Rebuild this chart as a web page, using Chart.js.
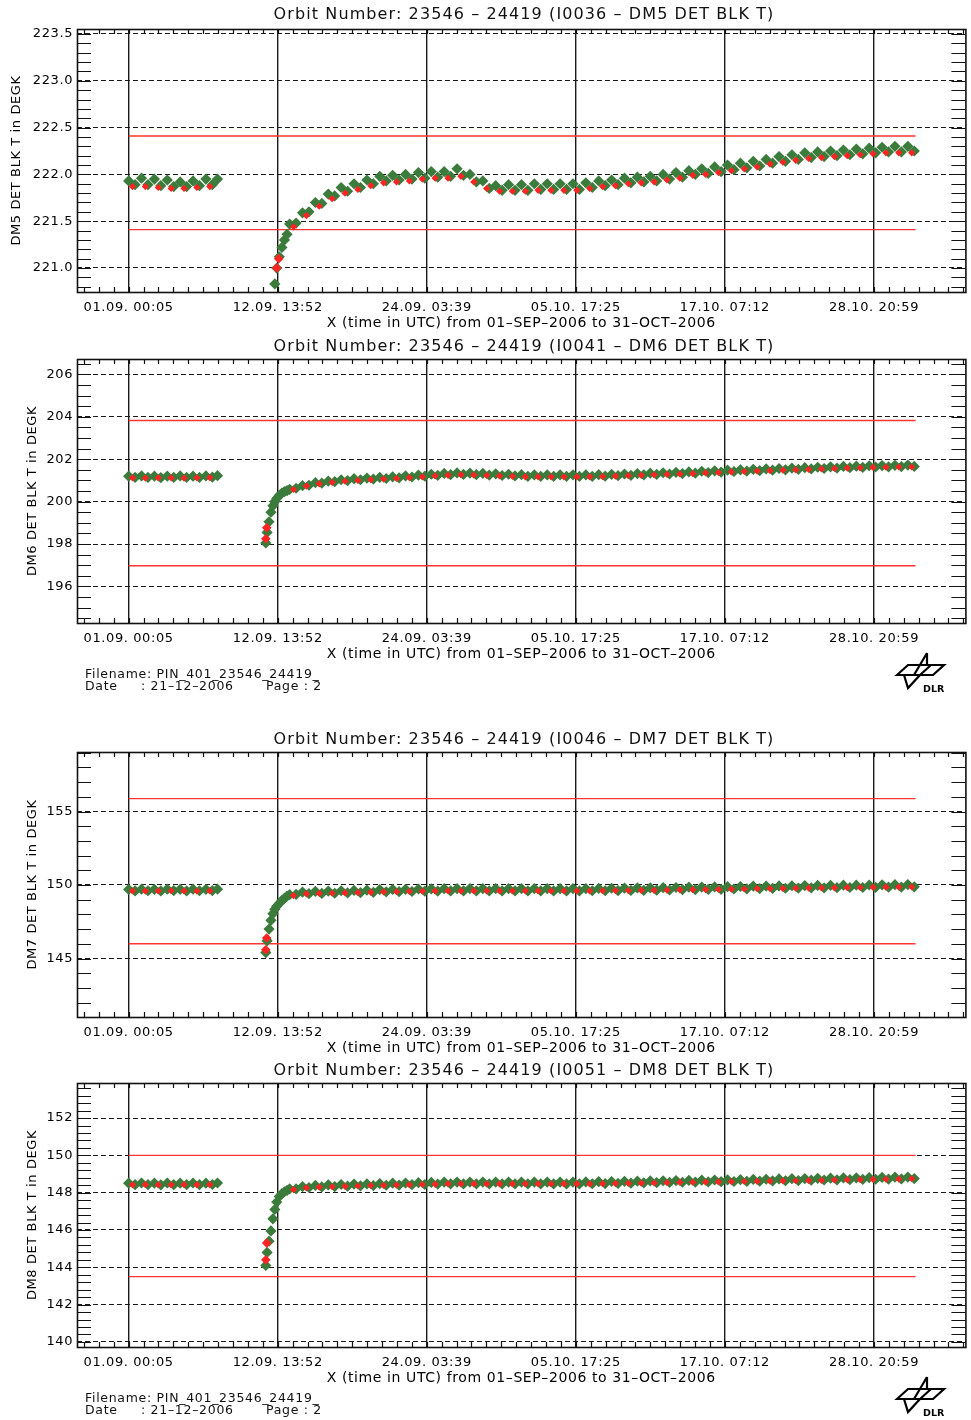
<!DOCTYPE html>
<html><head><meta charset="utf-8">
<script src="https://cdn.jsdelivr.net/npm/chart.js@4.4.1/dist/chart.umd.min.js"></script>
<style>
html,body{margin:0;padding:0;background:#fff;}
body{position:relative;width:971px;height:1420px;overflow:hidden;font-family:"DejaVu Sans",sans-serif;color:#000;}
canvas{position:absolute;left:0;}
.title{position:absolute;left:77px;width:894px;text-align:center;font-size:16px;letter-spacing:1.1px;line-height:18px;white-space:nowrap;color:#111;}
.foot{position:absolute;font-size:12.5px;letter-spacing:0.7px;line-height:13px;white-space:pre;color:#111;}
.logo{position:absolute;left:892px;width:56px;height:44px;}
</style></head><body>
<script>
// ---------------- DATA ----------------
// time axis: days after 01.09.2006 00:05 UTC
const tickDays   = [0, 11.574, 23.148, 34.722, 46.296, 57.870];
const tickLabels = ['01.09. 00:05','12.09. 13:52','24.09. 03:39','05.10. 17:25','17.10. 07:12','28.10. 20:59'];
const limitSpan  = [0, 61.1];

const times = [0.0,0.5,1.0,1.5,2.0,2.5,3.0,3.5,4.0,4.5,5.0,5.5,6.0,6.5,6.9,
 10.65,10.75,10.9,11.05,11.2,11.35,11.5,11.7,11.9,12.1,12.3,
 12.5,13,13.5,14,14.5,15,15.5,16,16.5,17,17.5,18,18.5,19,19.5,20,20.5,21,21.5,22,22.5,23,23.5,24,24.5,25,
 25.5,26,26.5,27,27.5,28,28.5,29,29.5,30,30.5,31,31.5,32,32.5,33,33.5,34,34.5,35,35.5,36,36.5,37,37.5,38,
 38.5,39,39.5,40,40.5,41,41.5,42,42.5,43,43.5,44,44.5,45,45.5,46,46.5,47,47.5,48,48.5,49,49.5,50,50.5,51,
 51.5,52,52.5,53,53.5,54,54.5,55,55.5,56,56.5,57,57.5,58,58.5,59,59.5,60,60.5,61];

const redTimes = [0.3,1.3,2.3,3.3,4.3,5.3,6.3, 10.65,10.72,11.5,11.65,
 12.8,13.8,14.8,15.8,16.8,17.8,18.8,19.8,20.8,21.8,22.8,23.8,24.8,25.8,26.8,27.8,28.8,29.8,30.8,31.8,32.8,
 33.8,34.8,35.8,36.8,37.8,38.8,39.8,40.8,41.8,42.8,43.8,44.8,45.8,46.8,47.8,48.8,49.8,50.8,51.8,52.8,53.8,
 54.8,55.8,56.8,57.8,58.8,59.8,60.8];

// DM5
const dm5Values = [221.93,221.89,221.96,221.89,221.95,221.88,221.94,221.87,221.92,221.87,221.93,221.88,221.95,221.89,221.95,
 219.8,220.0,220.3,220.5,220.68,220.83,221.0,221.12,221.22,221.3,221.36,
 221.47,221.48,221.59,221.60,221.70,221.69,221.79,221.77,221.86,221.82,221.90,221.86,221.94,221.90,221.98,221.93,
 221.99,221.94,222.00,221.95,222.02,221.96,222.03,221.97,222.03,221.98,222.06,221.99,222.00,221.92,221.93,221.85,
 221.88,221.83,221.89,221.83,221.89,221.83,221.90,221.84,221.90,221.84,221.90,221.84,221.90,221.84,221.91,221.86,
 221.93,221.88,221.94,221.89,221.96,221.91,221.97,221.92,221.98,221.93,222.00,221.95,222.02,221.97,222.04,222.00,
 222.06,222.01,222.08,222.03,222.10,222.05,222.12,222.07,222.14,222.09,222.16,222.12,222.19,222.14,222.21,222.16,
 222.23,222.18,222.24,222.19,222.25,222.20,222.26,222.21,222.27,222.22,222.28,222.23,222.29,222.24,222.30,222.24,
 222.30,222.25];
const dm5Red = [221.87,221.87,221.86,221.85,221.85,221.86,221.87, null,null,221.0,221.1,
 221.44,221.56,221.66,221.74,221.80,221.84,221.88,221.91,221.92,221.93,221.95,221.96,221.96,221.98,221.92,221.85,
 221.82,221.82,221.82,221.83,221.83,221.83,221.83,221.85,221.87,221.88,221.90,221.91,221.92,221.94,221.96,221.99,
 222.00,222.02,222.04,222.06,222.08,222.11,222.13,222.15,222.17,222.18,222.19,222.20,222.21,222.22,222.23,222.23,222.23];
const dm5Limits = [222.41, 221.41];
const dm5Ticks = [221.0,221.5,222.0,222.5,223.0,223.5];
const dm5TickLabels = ['221.0','221.5','222.0','222.5','223.0','223.5'];

// DM6
const dm6Values = [201.20,201.14,201.21,201.14,201.20,201.13,201.20,201.14,201.21,201.14,201.20,201.14,201.21,201.15,201.22,
 198.05,198.55,199.05,199.5,199.8,200.0,200.15,200.3,200.4,200.47,200.52,
 200.58,200.63,200.75,200.77,200.89,200.87,200.97,200.94,201.03,200.99,201.08,201.03,201.11,201.06,201.14,201.09,
 201.17,201.12,201.21,201.16,201.25,201.20,201.29,201.24,201.33,201.27,201.35,201.28,201.34,201.27,201.33,201.25,
 201.31,201.23,201.29,201.21,201.27,201.19,201.26,201.19,201.26,201.19,201.26,201.19,201.26,201.19,201.26,201.19,
 201.27,201.20,201.28,201.22,201.30,201.24,201.32,201.26,201.34,201.28,201.36,201.30,201.38,201.32,201.40,201.34,
 201.43,201.37,201.45,201.39,201.48,201.42,201.50,201.44,201.52,201.46,201.54,201.48,201.56,201.50,201.58,201.52,
 201.60,201.54,201.62,201.56,201.64,201.58,201.66,201.60,201.67,201.61,201.69,201.63,201.70,201.64,201.71,201.65,
 201.72,201.66];
const dm6Red = [201.12,201.11,201.12,201.12,201.11,201.12,201.13, 198.25,198.77,null,null,
 200.57,200.73,200.84,200.91,200.96,201.00,201.03,201.06,201.09,201.13,201.17,201.21,201.24,201.26,201.25,201.23,
 201.21,201.19,201.17,201.17,201.17,201.17,201.17,201.17,201.18,201.20,201.22,201.24,201.26,201.28,201.30,201.32,
 201.35,201.37,201.40,201.42,201.44,201.46,201.48,201.50,201.52,201.54,201.56,201.58,201.59,201.61,201.62,201.63,201.63];
const dm6Limits = [203.82, 196.98];
const dm6Ticks = [196,198,200,202,204,206];
const dm6TickLabels = ['196','198','200','202','204','206'];

// DM7
const dm7Values = [149.70,149.60,149.72,149.61,149.71,149.60,149.72,149.62,149.71,149.60,149.72,149.61,149.71,149.62,149.72,
 145.4,146.2,147.0,147.6,148.05,148.35,148.55,148.75,148.95,149.1,149.25,
 149.34,149.36,149.52,149.41,149.57,149.43,149.59,149.44,149.61,149.46,149.63,149.48,149.65,149.50,149.69,149.54,
 149.70,149.55,149.71,149.56,149.73,149.58,149.74,149.59,149.75,149.60,149.76,149.60,149.76,149.60,149.76,149.60,
 149.76,149.60,149.76,149.60,149.76,149.60,149.76,149.60,149.76,149.60,149.76,149.60,149.76,149.60,149.76,149.61,
 149.77,149.61,149.78,149.62,149.79,149.63,149.80,149.64,149.81,149.65,149.82,149.66,149.83,149.68,149.85,149.69,
 149.86,149.70,149.87,149.71,149.89,149.73,149.90,149.74,149.92,149.76,149.93,149.77,149.94,149.78,149.95,149.79,
 149.96,149.80,149.97,149.81,149.98,149.82,149.99,149.83,149.99,149.83,150.00,149.84,150.01,149.85,150.02,149.86,
 150.03,149.88];
const dm7Red = [149.60,149.59,149.60,149.61,149.60,149.59,149.60, 145.6,146.4,null,null,
 149.28,149.40,149.43,149.44,149.46,149.48,149.50,149.53,149.55,149.56,149.58,149.59,149.60,149.60,149.60,149.60,
 149.60,149.60,149.60,149.60,149.60,149.60,149.60,149.60,149.61,149.62,149.62,149.63,149.64,149.65,149.67,149.68,
 149.69,149.70,149.72,149.73,149.75,149.76,149.77,149.78,149.79,149.80,149.81,149.82,149.83,149.84,149.85,149.86,149.87];
const dm7Limits = [155.88, 146.0];
const dm7Ticks = [145,150,155];
const dm7TickLabels = ['145','150','155'];

// DM8
const dm8Values = [148.51,148.43,148.52,148.43,148.51,148.42,148.52,148.43,148.51,148.43,148.52,148.43,148.51,148.44,148.52,
 144.1,144.8,145.4,145.95,146.6,147.1,147.5,147.8,147.95,148.05,148.12,
 148.21,148.21,148.33,148.28,148.39,148.31,148.42,148.33,148.44,148.35,148.46,148.37,148.47,148.38,148.49,148.40,
 148.51,148.41,148.52,148.43,148.54,148.44,148.55,148.46,148.57,148.47,148.57,148.47,148.57,148.47,148.57,148.47,
 148.57,148.47,148.57,148.47,148.57,148.47,148.57,148.47,148.57,148.47,148.57,148.47,148.57,148.47,148.58,148.48,
 148.59,148.49,148.60,148.50,148.61,148.51,148.62,148.53,148.63,148.54,148.64,148.55,148.65,148.56,148.66,148.57,
 148.67,148.58,148.68,148.59,148.69,148.60,148.70,148.61,148.71,148.62,148.72,148.63,148.74,148.64,148.75,148.65,
 148.76,148.67,148.77,148.68,148.78,148.69,148.79,148.70,148.80,148.71,148.81,148.72,148.82,148.73,148.83,148.74,
 148.84,148.76];
const dm8Red = [148.42,148.43,148.42,148.42,148.43,148.42,148.43, 144.4,145.3,null,null,
 148.17,148.26,148.30,148.32,148.34,148.36,148.38,148.39,148.41,148.42,148.44,148.45,148.47,148.47,148.47,148.47,
 148.47,148.47,148.47,148.47,148.47,148.47,148.47,148.47,148.48,148.49,148.50,148.51,148.52,148.54,148.55,148.56,
 148.57,148.58,148.59,148.60,148.61,148.62,148.63,148.64,148.65,148.66,148.68,148.69,148.70,148.71,148.72,148.73,148.75];
const dm8Limits = [150.0, 143.5];
const dm8Ticks = [140,142,144,146,148,150,152];
const dm8TickLabels = ['140','142','144','146','148','150','152'];

// ---------------- LAYOUT ----------------
const FONT = '"DejaVu Sans", sans-serif';
const X_MIN = -4.01, X_MAX = 64.97, X_MINOR = 1.1574;
const GREEN = '#3b7b3b', RED = '#ff2424', LIMIT = '#ff3535';

const panels = [
 {id:'I0036', dm:'DM5', values:dm5Values, red:dm5Red, limits:dm5Limits, yTicks:dm5Ticks, yLabels:dm5TickLabels,
  yMin:220.744, yMax:223.553, yMinor:0.1, top:29, bottom:292, yTitlePad:9, titleY:14},
 {id:'I0041', dm:'DM6', values:dm6Values, red:dm6Red, limits:dm6Limits, yTicks:dm6Ticks, yLabels:dm6TickLabels,
  yMin:194.28, yMax:206.72, yMinor:0.5, top:359, bottom:623, yTitlePad:25, titleY:346},
 {id:'I0046', dm:'DM7', values:dm7Values, red:dm7Red, limits:dm7Limits, yTicks:dm7Ticks, yLabels:dm7TickLabels,
  yMin:141.02, yMax:159.05, yMinor:1, top:752, bottom:1017, yTitlePad:25, titleY:739},
 {id:'I0051', dm:'DM8', values:dm8Values, red:dm8Red, limits:dm8Limits, yTicks:dm8Ticks, yLabels:dm8TickLabels,
  yMin:139.73, yMax:153.88, yMinor:0.4, top:1083, bottom:1347, yTitlePad:25, titleY:1070}
];

const spacingPlugin = {
  id:'spacing',
  beforeInit(chart){ try { chart.ctx.letterSpacing = '0.6px'; } catch(e){} },
  beforeLayout(chart){ try { chart.ctx.letterSpacing = '0.6px'; } catch(e){} },
  beforeDraw(chart){ try { chart.ctx.letterSpacing = '0.6px'; } catch(e){} }
};

const framePlugin = {
  id:'frame',
  afterDatasetsDraw(chart, args, opts){
    const {ctx, chartArea:a, scales:{x, y}} = chart;
    ctx.save();
    ctx.strokeStyle = '#111';
    ctx.lineWidth = 1.2;
    ctx.beginPath();
    const k0 = Math.ceil(x.min / X_MINOR), k1 = Math.floor(x.max / X_MINOR);
    for (let k = k0; k <= k1; k++){
      const px = Math.round(x.getPixelForValue(k * X_MINOR)) + 0.5;
      ctx.moveTo(px, a.top); ctx.lineTo(px, a.top + 5);
      ctx.moveTo(px, a.bottom); ctx.lineTo(px, a.bottom - 5);
    }
    const s = opts.yMinor;
    const j0 = Math.ceil(y.min / s - 1e-6), j1 = Math.floor(y.max / s + 1e-6);
    for (let j = j0; j <= j1; j++){
      const py = Math.round(y.getPixelForValue(j * s)) + 0.5;
      ctx.moveTo(a.left, py); ctx.lineTo(a.left + 14, py);
      ctx.moveTo(a.right, py); ctx.lineTo(a.right - 14, py);
    }
    ctx.stroke();
    ctx.lineWidth = 1.6;
    ctx.strokeRect(a.left + 0.5, a.top + 0.5, a.right - a.left, a.bottom - a.top);
    ctx.restore();
  }
};

Chart.defaults.font.family = FONT;
Chart.defaults.color = '#000';

panels.forEach(p => {
  const canvasTop = p.top - 29;
  const h = p.bottom - canvasTop + 48;
  const cv = document.createElement('canvas');
  cv.width = 971; cv.height = h;
  cv.style.top = canvasTop + 'px';
  cv.style.width = '971px'; cv.style.height = h + 'px';
  document.body.appendChild(cv);

  const t = document.createElement('div');
  t.className = 'title';
  t.style.top = (p.titleY - 9) + 'px';
  t.textContent = 'Orbit Number: 23546 \u2013 24419 (' + p.id + ' \u2013 ' + p.dm + ' DET BLK T)';
  document.body.appendChild(t);

  const greenPts = times.map((tt, i) => ({x: tt, y: p.values[i]}));
  const redPts = redTimes.map((tt, i) => ({x: tt, y: p.red[i], idx: i})).filter(q => q.y !== null);
  const lim = (v) => limitSpan.map(d => ({x: d, y: v}));

  new Chart(cv.getContext('2d'), {
    type: 'scatter',
    data: { datasets: [
      {label:'red', data: redPts, pointStyle:'rectRot', backgroundColor: RED, borderWidth:0,
       pointRadius: c => (c.raw && c.raw.idx >= 7 && c.raw.idx <= 10) ? 4.8 : 3.6, clip: 0},
      {label:'green', data: greenPts, pointStyle:'rectRot', backgroundColor: GREEN, borderWidth:0, pointRadius:5.6, clip: 0},
      {label:'upper', data: lim(p.limits[0]), showLine:true, borderColor: LIMIT, borderWidth:1.4, pointRadius:0, clip: 0},
      {label:'lower', data: lim(p.limits[1]), showLine:true, borderColor: LIMIT, borderWidth:1.4, pointRadius:0, clip: 0}
    ]},
    options: {
      responsive:false, animation:false, devicePixelRatio:1, events:[],
      layout:{ padding:{ top:29, left:0, right:0, bottom:0 } },
      plugins:{ legend:{display:false}, tooltip:{enabled:false}, frame:{ yMinor: p.yMinor } },
      scales:{
        x:{ type:'linear', min:X_MIN, max:X_MAX,
            afterBuildTicks: s => { s.ticks = tickDays.map(v => ({value:v})); },
            afterFit: s => { s.height = 48; },
            ticks:{ autoSkip:false, maxRotation:0, padding:8, font:{size:13, family:FONT}, color:'#000',
                    callback: (v) => { const i = tickDays.indexOf(v); return i >= 0 ? tickLabels[i] : ''; } },
            grid:{ color:'#1a1a1a', lineWidth:1.4, drawTicks:false },
            border:{ display:false },
            title:{ display:true, text:'X (time in UTC) from 01\u2013SEP\u20132006 to 31\u2013OCT\u20132006',
                    font:{size:14, family:FONT}, color:'#000', padding:{top:0, bottom:8} } },
        y:{ type:'linear', min:p.yMin, max:p.yMax,
            afterBuildTicks: s => { s.ticks = p.yTicks.map(v => ({value:v})); },
            afterFit: s => { s.width = 77; },
            ticks:{ padding:4, font:{size:13, family:FONT}, color:'#000',
                    callback: (v) => { const i = p.yTicks.indexOf(v); return i >= 0 ? p.yLabels[i] : ''; } },
            grid:{ color:'#1a1a1a', lineWidth:1.1, drawTicks:false },
            border:{ display:false, dash:[5,3] },
            title:{ display:true, text: p.dm + ' DET BLK T in DEGK', font:{size:13, family:FONT}, color:'#000',
                    padding:{top:p.yTitlePad, bottom:0} } }
      }
    },
    plugins:[spacingPlugin, framePlugin]
  });
});

// footers and logos
function footer(y){
  const mk = (txt, x, yy) => { const d = document.createElement('div'); d.className = 'foot';
    d.style.left = x + 'px'; d.style.top = yy + 'px'; d.textContent = txt; document.body.appendChild(d); };
  mk('Filename: PIN_401_23546_24419_', 85, y - 7);
  mk('Date', 85, y + 5);
  mk(': 21\u201312\u20132006', 141, y + 5);
  mk('Page : 2', 266, y + 5);
}
function logo(top){
  const d = document.createElement('div');
  d.className = 'logo'; d.style.top = top + 'px';
  d.innerHTML = '<svg width="56" height="44" viewBox="0 0 56 44"><path d="M5 25 L16 15 L52 15 L41 25 Z M28 25 L39 15 M35 3 L22 25 M35 3 L35 15 M12 25 L16 38 L28 25" stroke="#000" stroke-width="2.2" fill="none"/><text x="31" y="42" font-family="DejaVu Sans" font-weight="bold" font-size="9.5">DLR</text></svg>';
  document.body.appendChild(d);
}
footer(674); footer(1398);
logo(650); logo(1374);
</script>
</body></html>
